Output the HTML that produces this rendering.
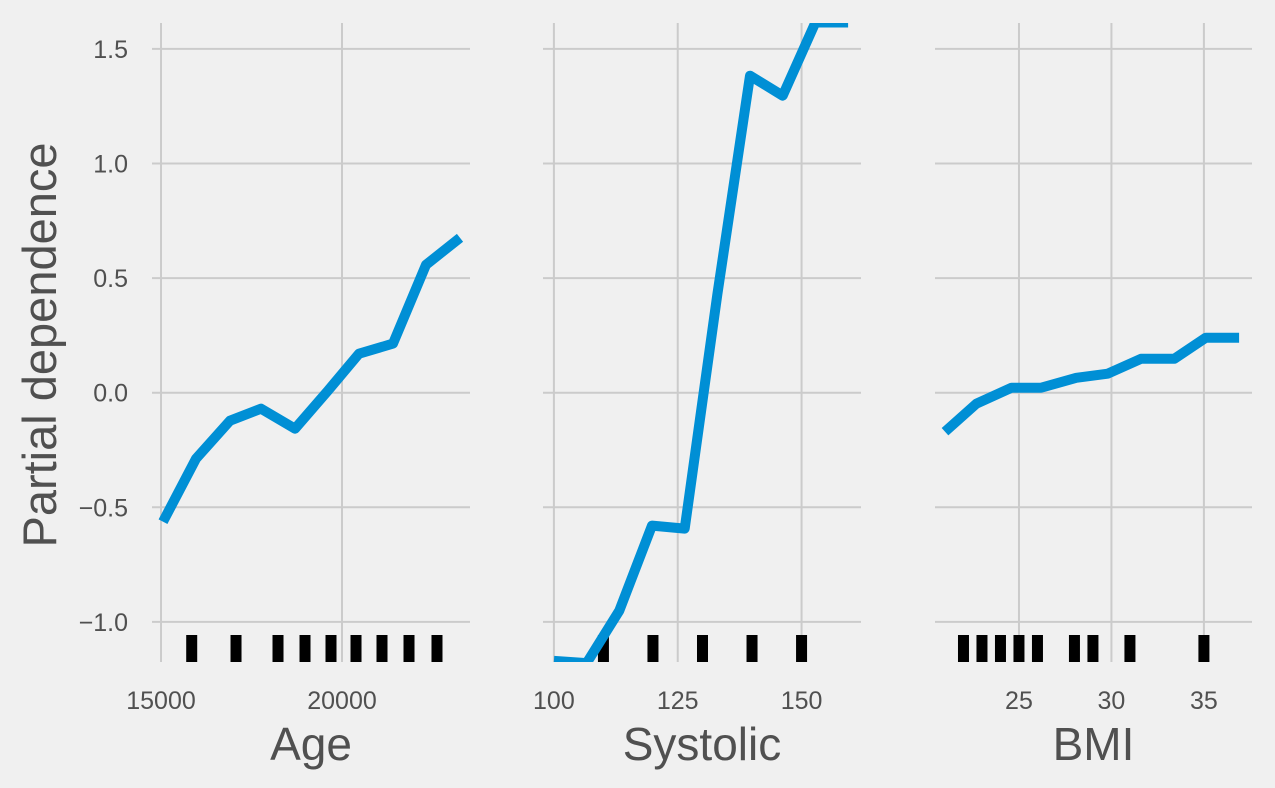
<!DOCTYPE html>
<html><head><meta charset="utf-8"><style>
html,body{margin:0;padding:0;background:#f0f0f0;}
svg{display:block;font-family:"Liberation Sans",sans-serif;}
</style></head><body>
<svg id="chart" width="1275" height="788" viewBox="0 0 1275 788" xmlns="http://www.w3.org/2000/svg">
<rect width="1275" height="788" fill="#f0f0f0"/>
<text x="0" y="0" transform="translate(56,345) rotate(-90)" text-anchor="middle" font-size="47" fill="#505050">Partial dependence</text>
</svg>
<script>
// ---- data ----
const yTicks = [-1.0, -0.5, 0.0, 0.5, 1.0, 1.5];
const yTickLabels = ["\u22121.0", "\u22120.5", "0.0", "0.5", "1.0", "1.5"];
const ageX = [15055, 15967, 16906, 17762, 18702, 19613, 20470, 21409, 22320, 23260];
const ageY = [-0.563, -0.288, -0.122, -0.07, -0.157, 0.009, 0.17, 0.214, 0.558, 0.676];
const ageRug = [15848, 17072, 18232, 18978, 19696, 20387, 21105, 21851, 22624];
const ageTicks = [15000, 20000];
const sysX = [100, 106.6, 113.2, 119.8, 126.4, 133, 139.6, 146.2, 152.8, 159.4];
const sysY = [-1.17, -1.18, -0.951, -0.58, -0.593, 0.43, 1.383, 1.296, 1.615, 1.615];
const sysRug = [110, 120, 130, 140, 150];
const sysTicks = [100, 125, 150];
const bmiX = [21.0, 22.7, 24.6, 26.2, 28.1, 29.8, 31.6, 33.4, 35.1, 36.9];
const bmiY = [-0.17, -0.048, 0.022, 0.022, 0.065, 0.083, 0.148, 0.148, 0.24, 0.24];
const bmiRug = [22, 23, 24, 25, 26, 28, 29, 31, 35];
const bmiTicks = [25, 30, 35];

const panels = [
  {name:"age", label:"Age", x0:152, x1:470, dmin:14751, dmax:23536, xs:ageX, ys:ageY, rug:ageRug, ticks:ageTicks},
  {name:"systolic", label:"Systolic", x0:543, x1:861, dmin:97.8, dmax:162.0, xs:sysX, ys:sysY, rug:sysRug, ticks:sysTicks},
  {name:"bmi", label:"BMI", x0:935, x1:1252, dmin:20.46, dmax:37.6, xs:bmiX, ys:bmiY, rug:bmiRug, ticks:bmiTicks}
];
const yTop = 23, yBot = 662, yMin = -1.175, yMax = 1.613;
const svg = document.getElementById('chart');
const NS = "http://www.w3.org/2000/svg";
function yScale(v){ return yBot - (v - yMin) / (yMax - yMin) * (yBot - yTop); }
function mk(tag, attrs, parent){
  const e = document.createElementNS(NS, tag);
  for (const k in attrs) e.setAttribute(k, attrs[k]);
  (parent || svg).appendChild(e);
  return e;
}
panels.forEach((p, pi) => {
  const xs = v => p.x0 + (v - p.dmin) / (p.dmax - p.dmin) * (p.x1 - p.x0);
  const g = mk('g', {});
  
  
  const clip = mk('clipPath', {id:'clip' + pi}, g);
  mk('rect', {x:p.x0, y:yTop, width:p.x1 - p.x0, height:yBot - yTop}, clip);
  yTicks.forEach((t, i) => {
    const y = yScale(t);
    const gl = mk('line', {x1:p.x0, x2:p.x1, y1:y, y2:y, stroke:'#cbcbcb', 'stroke-width':2}, g);
    
    
    if (pi === 0) {
      const tl = mk('text', {x:128, y:y + 9, 'text-anchor':'end', 'font-size':25, fill:'#505050'}, g);
      
      
      tl.textContent = yTickLabels[i];
    }
  });
  p.ticks.forEach(t => {
    const x = xs(t);
    const gl = mk('line', {x1:x, x2:x, y1:yTop, y2:yBot, stroke:'#cbcbcb', 'stroke-width':2}, g);
    
    
    const tl = mk('text', {x:x, y:709, 'text-anchor':'middle', 'font-size':25, fill:'#505050'}, g);
    
    
    tl.textContent = String(t);
  });
  p.rug.forEach(v => {
    const r = mk('rect', {x:xs(v) - 5.5, y:635, width:11, height:27, fill:'#000'}, g);
    
    
  });
  const pts = p.xs.map((v, i) => xs(v).toFixed(1) + ',' + yScale(p.ys[i]).toFixed(1)).join(' ');
  const line = mk('polyline', {points:pts, fill:'none', stroke:'#008fd5', 'stroke-width':10, 'stroke-linejoin':'round', 'clip-path':'url(#clip' + pi + ')'}, g);
  
  
  const xl = mk('text', {x:(p.x0 + p.x1) / 2, y:760, 'text-anchor':'middle', 'font-size':46, fill:'#505050'}, g);
  
  
  xl.textContent = p.label;
});
</script>
</body></html>
